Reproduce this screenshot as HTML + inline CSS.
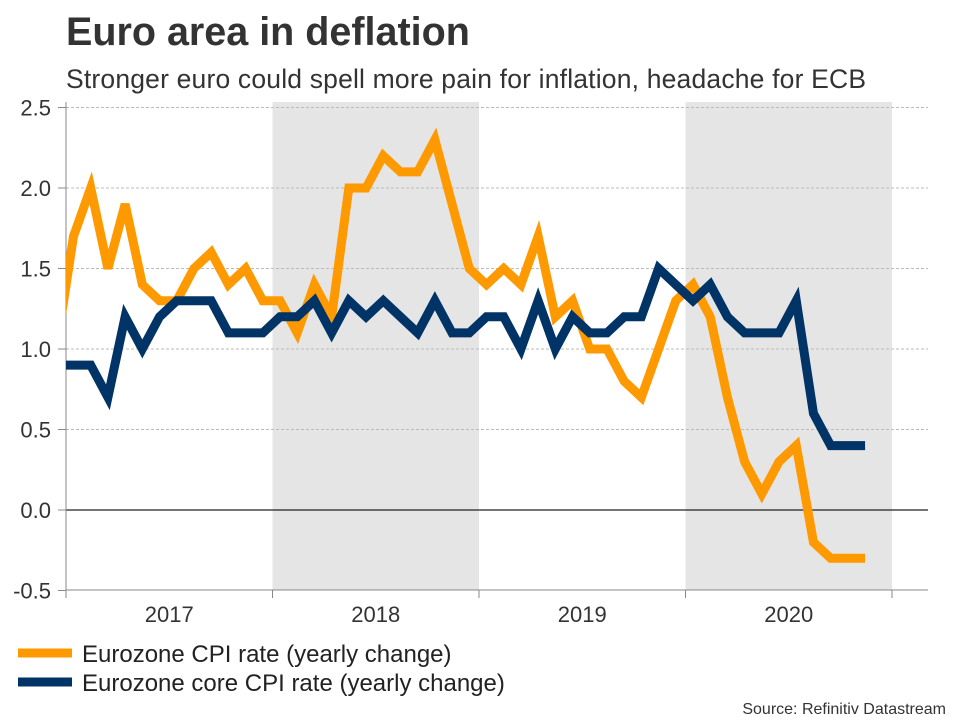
<!DOCTYPE html>
<html><head><meta charset="utf-8"><style>
body{margin:0;background:#fff;font-family:"Liberation Sans",Arial,sans-serif;}
#wrap{position:relative;width:960px;height:720px;overflow:hidden;}
</style></head><body>
<div id="wrap">
<svg id="svg" width="960" height="720" xmlns="http://www.w3.org/2000/svg">
<text x="66" y="45" font-size="39.5" font-weight="bold" fill="#333">Euro area in deflation</text>
<text x="66" y="88" font-size="26.5" fill="#333" textLength="800">Stronger euro could spell more pain for inflation, headache for ECB</text>
<g id="plot"></g>
<line x1="18" y1="653" x2="72" y2="653" stroke="#ff9900" stroke-width="9"/>
<text x="82" y="662" font-size="24" fill="#222">Eurozone CPI rate (yearly change)</text>
<line x1="18" y1="682" x2="72" y2="682" stroke="#003366" stroke-width="9"/>
<text x="82" y="691" font-size="24" fill="#222">Eurozone core CPI rate (yearly change)</text>
<text x="946" y="714" font-size="16" fill="#333" text-anchor="end">Source: Refinitiv Datastream</text>
</svg>
</div>
<script>
const years = ["2017","2018","2019","2020"];
const yTicks = [2.5,2.0,1.5,1.0,0.5,0.0,-0.5];
const cpi = [1.0,1.7,2.0,1.5,1.9,1.4,1.3,1.3,1.5,1.6,1.4,1.5,1.3,
 1.3,1.1,1.4,1.2,2.0,2.0,2.2,2.1,2.1,2.3,1.9,1.5,
 1.4,1.5,1.4,1.7,1.2,1.3,1.0,1.0,0.8,0.7,1.0,1.3,
 1.4,1.2,0.7,0.3,0.1,0.3,0.4,-0.2,-0.3,-0.3,-0.3];
const core = [0.9,0.9,0.9,0.7,1.2,1.0,1.2,1.3,1.3,1.3,1.1,1.1,1.1,
 1.2,1.2,1.3,1.1,1.3,1.2,1.3,1.2,1.1,1.3,1.1,1.1,
 1.2,1.2,1.0,1.3,1.0,1.2,1.1,1.1,1.2,1.2,1.5,1.4,
 1.3,1.4,1.2,1.1,1.1,1.1,1.3,0.6,0.4,0.4,0.4];
const NS="http://www.w3.org/2000/svg";
const L=66,R=928,T=102,B=590;
const yearW=206.5, monthW=yearW/12;
const x=i=>L+monthW*(i-1)+7.5;
const y=v=>510-v*161;
const g=document.getElementById('plot');
function mk(t,a){const e=document.createElementNS(NS,t);for(const k in a)e.setAttribute(k,a[k]);g.appendChild(e);return e;}
[1,3].forEach(k=>{
 const r=mk('rect',{x:L+yearW*k,y:T,width:yearW,height:B-T,fill:'#e5e5e5'});
 
 
});
yTicks.forEach(v=>{
 if(v!==0&&v!==-0.5){const l=mk('line',{x1:L,x2:R,y1:y(v),y2:y(v),stroke:'#bbb','stroke-dasharray':'3,2','stroke-width':1});
 
 }
 const t=mk('text',{x:51,y:y(v)+8,'font-size':22,fill:'#333','text-anchor':'end'});
 t.textContent=v.toFixed(1);
 
 
 const tk=mk('line',{x1:58,x2:L,y1:y(v),y2:y(v),stroke:'#888'});
 
 
});
const zl=mk('line',{x1:L,x2:R,y1:y(0),y2:y(0),stroke:'#222','stroke-width':1.2});


const ax=mk('line',{x1:L,x2:R,y1:B,y2:B,stroke:'#888'});


const ay=mk('line',{x1:L,x2:L,y1:T,y2:B+8,stroke:'#888'});


years.forEach((yr,k)=>{
 const t=mk('text',{x:L+yearW*(k+0.5),y:622,'font-size':22,fill:'#333','text-anchor':'middle'});
 t.textContent=yr;
 
 
 const tk=mk('line',{x1:L+yearW*(k+1),x2:L+yearW*(k+1),y1:B,y2:B+8,stroke:'#888'});
 
 
});
const cp=mk('clipPath',{id:'cp'});
const cr=document.createElementNS(NS,'rect');
cr.setAttribute('x',L);cr.setAttribute('y',0);cr.setAttribute('width',R-L);cr.setAttribute('height',720);
cp.appendChild(cr);
function line(d,c,name){
 const p=mk('polyline',{points:d.map((v,i)=>x(i)+','+y(v)).join(' '),fill:'none',stroke:c,'stroke-width':9,'stroke-linejoin':'miter','clip-path':'url(#cp)'});
 
 
}
line(cpi,'#ff9900','cpi-line');
line(core,'#003366','core-cpi-line');
</script>
</body></html>
